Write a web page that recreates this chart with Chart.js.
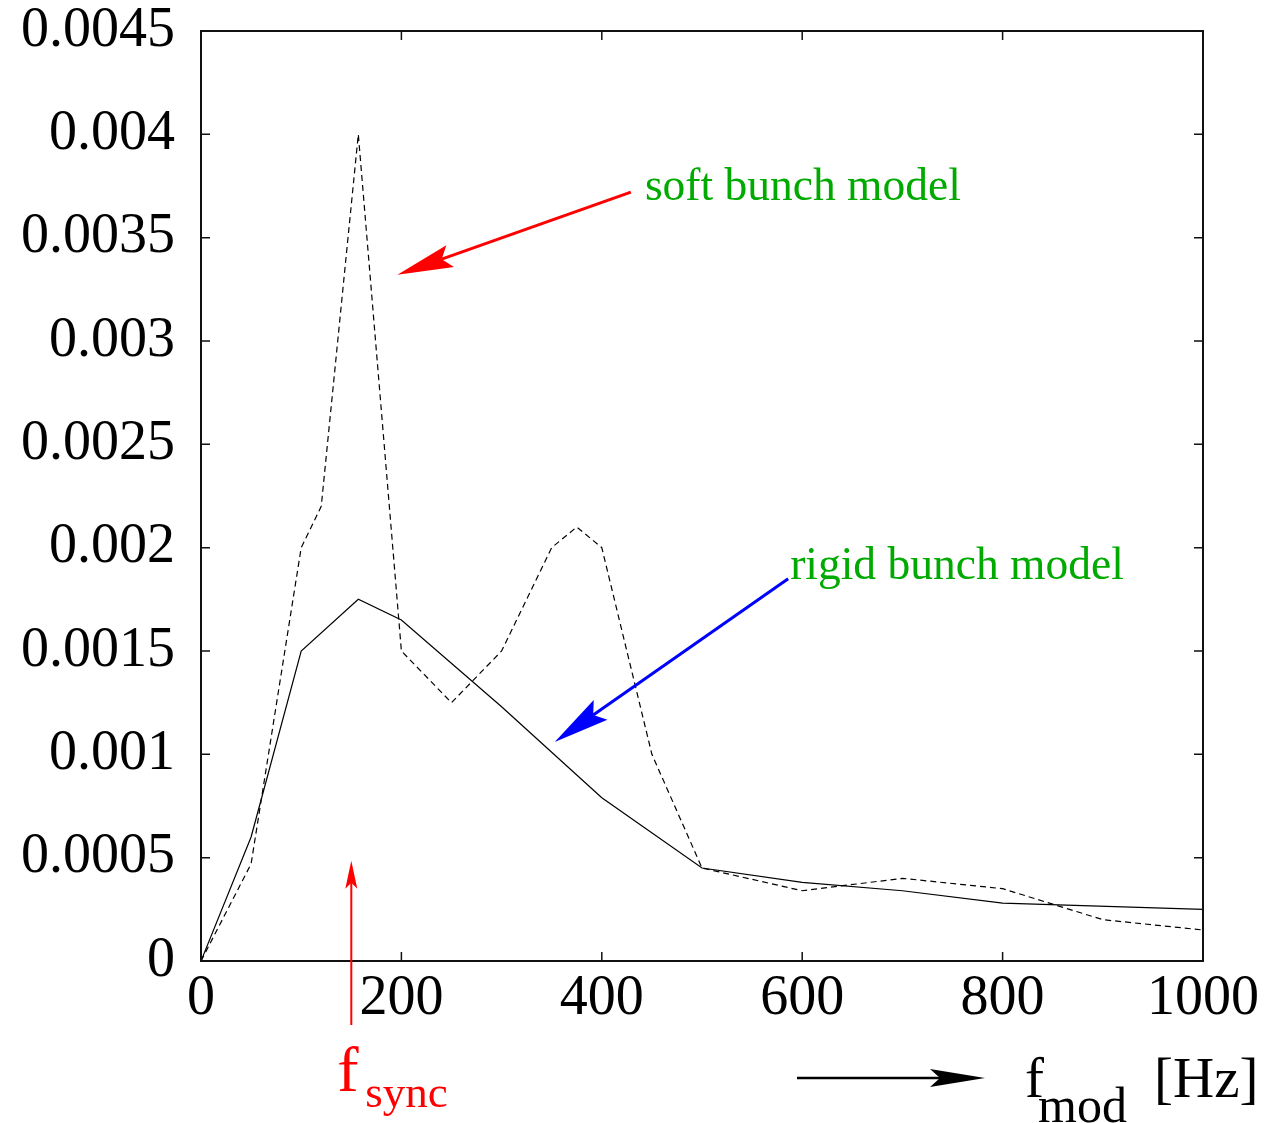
<!DOCTYPE html>
<html>
<head>
<meta charset="utf-8">
<script src="https://cdn.jsdelivr.net/npm/chart.js@4.4.1/dist/chart.umd.min.js"></script>
<style>
  html, body { margin: 0; padding: 0; background: #fff; }
  #wrap { width: 1285px; height: 1123px; }
</style>
</head>
<body>
<div id="wrap"><canvas id="c" width="1285" height="1123"></canvas></div>
<script>
// Rigid bunch model (solid line): modulation frequency [Hz] and response
const rigidFreq = [0, 50, 100, 157, 200, 300, 400, 500, 600, 700, 800, 1000];
const rigidVal  = [0, 0.0006, 0.0015, 0.00175, 0.00165, 0.00123, 0.00079, 0.00045, 0.00038, 0.00034, 0.00028, 0.00025];

// Soft bunch model (dashed line)
const softFreq = [0, 50, 100, 120, 157, 200, 250, 300, 350, 375, 400, 450, 500, 600, 700, 800, 900, 1000];
const softVal  = [0, 0.00047, 0.002, 0.0022, 0.004, 0.0015, 0.00125, 0.0015, 0.002, 0.0021, 0.002, 0.001, 0.00045, 0.00034, 0.0004, 0.00035, 0.0002, 0.00015];

// Axis ticks
const xTicks = [0, 200, 400, 600, 800, 1000];
const yTicks = [0, 0.0005, 0.001, 0.0015, 0.002, 0.0025, 0.003, 0.0035, 0.004, 0.0045];
const yTickLabels = ['0', '0.0005', '0.001', '0.0015', '0.002', '0.0025', '0.003', '0.0035', '0.004', '0.0045'];

// Synchrotron frequency marker [Hz]
const fSync = 150;

const SERIF = '"Liberation Serif", "Times New Roman", serif';

function toXY(xs, ys) { return xs.map((x, i) => ({ x: x, y: ys[i] })); }

// Filled gnuplot-style arrowhead with a notch
function arrow(ctx, x0, y0, x1, y1, color, width, headLen, headHalf, notch) {
  const dx = x1 - x0, dy = y1 - y0;
  const len = Math.hypot(dx, dy);
  const ux = dx / len, uy = dy / len;
  const nx = -uy, ny = ux;
  ctx.save();
  ctx.strokeStyle = color;
  ctx.fillStyle = color;
  ctx.lineWidth = width;
  ctx.beginPath();
  ctx.moveTo(x0, y0);
  ctx.lineTo(x1 - ux * notch, y1 - uy * notch);
  ctx.stroke();
  ctx.beginPath();
  ctx.moveTo(x1, y1);
  ctx.lineTo(x1 - ux * headLen + nx * headHalf, y1 - uy * headLen + ny * headHalf);
  ctx.lineTo(x1 - ux * notch, y1 - uy * notch);
  ctx.lineTo(x1 - ux * headLen - nx * headHalf, y1 - uy * headLen - ny * headHalf);
  ctx.closePath();
  ctx.fill();
  ctx.restore();
}

const framePlugin = {
  id: 'frame',
  afterDraw(chart) {
    const ctx = chart.ctx;
    const a = chart.chartArea;
    const xs = chart.scales.x, ys = chart.scales.y;
    ctx.save();
    // plot border
    ctx.strokeStyle = '#111';
    ctx.lineWidth = 2;
    ctx.strokeRect(a.left, a.top, a.right - a.left, a.bottom - a.top);
    // inward ticks on all four sides
    ctx.lineWidth = 1.5;
    ctx.beginPath();
    const tl = 9;
    yTicks.forEach(v => {
      const p = ys.getPixelForValue(v);
      ctx.moveTo(a.left, p); ctx.lineTo(a.left + tl, p);
      ctx.moveTo(a.right, p); ctx.lineTo(a.right - tl, p);
    });
    xTicks.forEach(v => {
      const p = xs.getPixelForValue(v);
      ctx.moveTo(p, a.bottom); ctx.lineTo(p, a.bottom - tl);
      ctx.moveTo(p, a.top); ctx.lineTo(p, a.top + tl);
    });
    ctx.stroke();

    // annotations inside the plot
    const green = '#00aa00';
    ctx.fillStyle = green;
    ctx.font = '45.5px ' + SERIF;
    ctx.textBaseline = 'alphabetic';
    ctx.textAlign = 'left';
    ctx.fillText('soft bunch model', xs.getPixelForValue(443), ys.getPixelForValue(0.00368));
    ctx.fillText('rigid bunch model', xs.getPixelForValue(588), ys.getPixelForValue(0.00185));

    arrow(ctx, xs.getPixelForValue(429), ys.getPixelForValue(0.00372),
               xs.getPixelForValue(196), ys.getPixelForValue(0.00332),
               '#ff0000', 3, 56, 11.5, 47);
    arrow(ctx, xs.getPixelForValue(586), ys.getPixelForValue(0.00185),
               xs.getPixelForValue(353), ys.getPixelForValue(0.00106),
               '#0000ff', 3, 56, 12, 47);

    // f_sync marker below the axis
    const fx = xs.getPixelForValue(fSync);
    arrow(ctx, fx, a.bottom + 64, fx, ys.getPixelForValue(0.0005) + 3,
          '#ff0000', 2, 28, 6, 22);
    ctx.fillStyle = '#ff0000';
    ctx.font = '64px ' + SERIF;
    ctx.fillText('f', fx - 14, a.bottom + 130);
    ctx.font = '45px ' + SERIF;
    ctx.fillText('sync', fx + 14, a.bottom + 146);

    // x-axis title with arrow
    arrow(ctx, 797, a.bottom + 117, 985, a.bottom + 117, '#000', 2.5, 55, 9, 45);
    ctx.fillStyle = '#000';
    ctx.font = '57px ' + SERIF;
    ctx.fillText('f', 1025, a.bottom + 136);
    ctx.font = '50px ' + SERIF;
    ctx.fillText('mod', 1038, a.bottom + 161);
    ctx.font = '57px ' + SERIF;
    ctx.fillText('[Hz]', 1154, a.bottom + 136);
    ctx.restore();
  }
};

Chart.defaults.font.family = SERIF;

new Chart(document.getElementById('c'), {
  type: 'line',
  data: {
    datasets: [
      {
        label: 'rigid bunch model',
        data: toXY(rigidFreq, rigidVal),
        borderColor: '#000',
        borderWidth: 1.2,
        pointRadius: 0,
        tension: 0,
        fill: false
      },
      {
        label: 'soft bunch model',
        data: toXY(softFreq, softVal),
        borderColor: '#000',
        borderWidth: 1.2,
        borderDash: [6, 4],
        pointRadius: 0,
        tension: 0,
        fill: false
      }
    ]
  },
  options: {
    responsive: false,
    animation: false,
    devicePixelRatio: 1,
    layout: { padding: { top: 31, right: 82, left: 0, bottom: 0 } },
    plugins: { legend: { display: false }, tooltip: { enabled: false } },
    scales: {
      x: {
        type: 'linear',
        min: 0, max: 1000,
        afterBuildTicks: s => { s.ticks = xTicks.map(v => ({ value: v })); },
        afterFit: s => { s.height = 162; s.paddingLeft = 0; s.paddingRight = 0; },
        ticks: { color: '#000', font: { size: 56, family: SERIF }, padding: 5, maxRotation: 0,
                 callback: v => String(v) },
        grid: { display: false, drawTicks: false },
        border: { display: false }
      },
      y: {
        type: 'linear',
        min: 0, max: 0.0045,
        afterBuildTicks: s => { s.ticks = yTicks.map(v => ({ value: v })); },
        afterFit: s => { s.width = 201; s.paddingTop = 0; s.paddingBottom = 0; },
        ticks: { color: '#000', font: { size: 56, family: SERIF }, padding: 26,
                 callback: (v, i) => yTickLabels[i] },
        grid: { display: false, drawTicks: false },
        border: { display: false }
      }
    }
  },
  plugins: [framePlugin]
});
</script>
</body>
</html>
